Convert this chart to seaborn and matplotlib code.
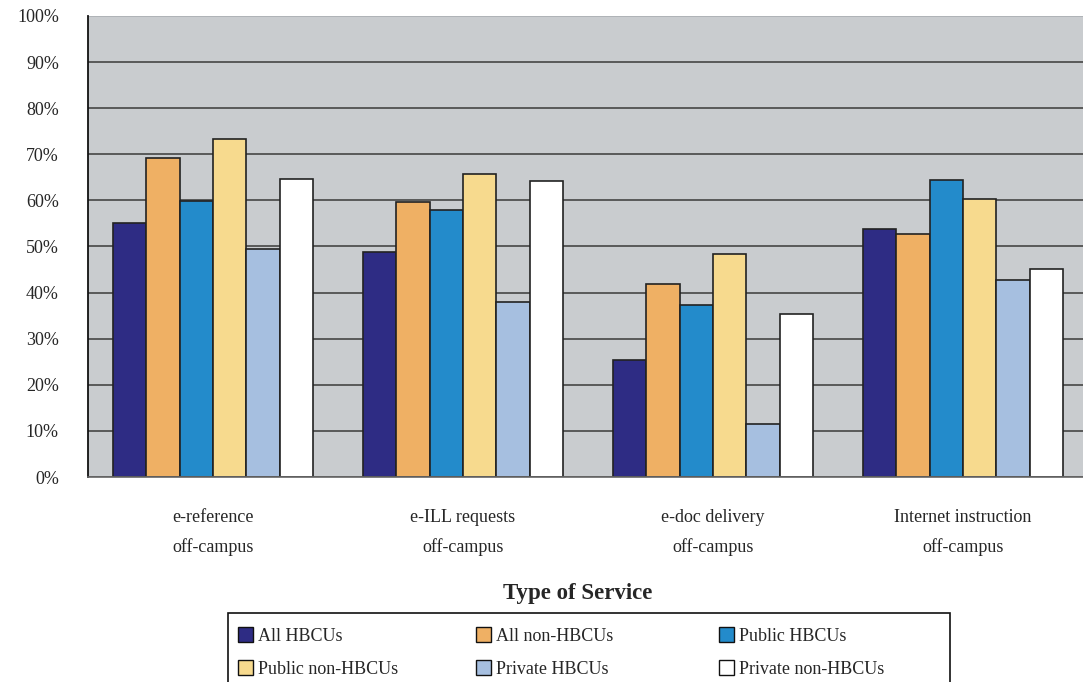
import numpy as np
import pandas as pd
import matplotlib
matplotlib.use('Agg')
import matplotlib.pyplot as plt
from matplotlib.patches import Patch, Rectangle
import seaborn as sns

services = ['e-reference\noff-campus', 'e-ILL requests\noff-campus',
            'e-doc delivery\noff-campus', 'Internet instruction\noff-campus']
groups = ['All HBCUs', 'All non-HBCUs', 'Public HBCUs',
          'Public non-HBCUs', 'Private HBCUs', 'Private non-HBCUs']

all_hbcu = [55.2, 48.7, 25.3, 53.9]
all_non_hbcu = [69.1, 59.7, 41.8, 52.7]
public_hbcu = [59.9, 57.9, 37.3, 64.4]
public_non_hbcu = [73.3, 65.7, 48.3, 60.3]
private_hbcu = [49.4, 38.0, 11.6, 42.7]
private_non_hbcu = [64.6, 64.3, 35.3, 45.2]

colors = ['#2E2C84', '#EFB064', '#238BCB', '#F7DA8E', '#A6BFE0', '#FFFFFF']

series = [all_hbcu, all_non_hbcu, public_hbcu, public_non_hbcu, private_hbcu, private_non_hbcu]
df = pd.DataFrame([
    {'service': s, 'group': g, 'pct': v}
    for g, vals in zip(groups, series)
    for s, v in zip(services, vals)
])

sns.set_style('white')
plt.rcParams['font.family'] = ['Liberation Serif', 'DejaVu Serif']

W, H = 1083, 682
fig = plt.figure(figsize=(W / 100, H / 100), dpi=100)
ax = fig.add_axes([88 / W, 205 / H, 1000 / W, 461 / H])
ax.set_facecolor('#C9CCCF')

sns.barplot(data=df, x='service', y='pct', hue='group', order=services,
            hue_order=groups, palette=colors, saturation=1, width=0.8,
            edgecolor='#222222', linewidth=1.2, legend=False, ax=ax)

ax.set_xlim(-0.5, 3.5)
ax.set_ylim(0, 100)
ax.set_yticks(np.arange(0, 101, 10))
ax.set_yticklabels([f'{t}%' for t in range(0, 101, 10)], fontsize=13)
ax.tick_params(axis='y', length=6, width=1.2, color='#222222', pad=15)
ax.yaxis.grid(True, color='#3A3A3A', linewidth=1.1)
ax.set_axisbelow(True)
ax.get_ygridlines()[-1].set_color('#A8ACB0')

# separators between groups on x axis, labels at group centres
ax.set_xticks([-0.5, 0.5, 1.5, 2.5])
ax.set_xticklabels([])
ax.tick_params(axis='x', which='major', length=6, width=1.2, color='#222222')
ax.set_xticks(range(len(services)), minor=True)
ax.set_xticklabels(services, minor=True, fontsize=13, linespacing=1.85)
ax.tick_params(axis='x', which='minor', length=0, pad=23)
ax.set_xlabel('')
ax.set_ylabel('')

for side in ['top', 'right']:
    ax.spines[side].set_visible(False)
ax.spines['left'].set_color('#111111')
ax.spines['left'].set_linewidth(1.3)
ax.spines['bottom'].set_color('#666666')
ax.spines['bottom'].set_linewidth(1.2)

fig.text(578 / W, 1 - 594 / H, 'Type of Service', ha='center', va='center',
         fontsize=16.5, fontweight='bold')

# legend: frame drawn by hand, one two-entry legend per column
fig.patches.append(Rectangle((228 / W, -0.05), 722 / W, 0.05 + (H - 613) / H,
                             transform=fig.transFigure, facecolor='white',
                             edgecolor='#111111', linewidth=1.2))
col_x = [233, 471, 714]
rows = [[0, 3], [1, 4], [2, 5]]
for x0, idx in zip(col_x, rows):
    handles = [Patch(facecolor=colors[i], edgecolor='#111111', linewidth=1.0) for i in idx]
    leg = fig.legend(handles, [groups[i] for i in idx], loc='upper left',
                     bbox_to_anchor=(x0 / W, 1 - 622 / H), frameon=False,
                     fontsize=13, handlelength=0.8, handleheight=0.9,
                     handletextpad=0.3, labelspacing=0.83, borderpad=0.3,
                     borderaxespad=0)

fig.savefig('out.png', dpi=100)
